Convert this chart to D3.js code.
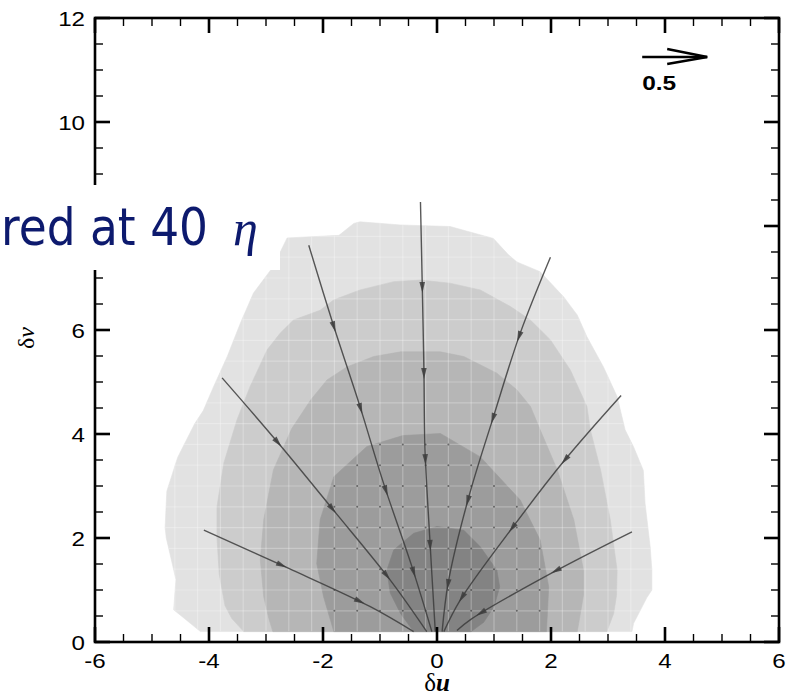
<!DOCTYPE html>
<html><head><meta charset="utf-8">
<script src="https://cdn.jsdelivr.net/npm/d3@7"></script>
<style>html,body{margin:0;padding:0;background:#fff;}svg{display:block;}</style>
</head><body>
<svg id="chart" width="786" height="698"></svg>
<script>
// ---------- data ----------
const xTicks = [-6, -4, -2, 0, 2, 4, 6];
const yTicks = [0, 2, 4, 6, 8, 10, 12];
const levelColors = ["#e2e2e2", "#cccccc", "#b6b6b6", "#9c9c9c", "#838383"];

const level1 = [[-4.15,0.2],[-4.62,0.62],[-4.58,1.2],[-4.75,2.0],[-4.77,2.2],[-4.74,2.9],[-4.55,3.55],[-4.25,4.2],[-4.1,4.45],[-3.92,4.91],[-3.68,5.49],[-3.45,6.13],[-3.22,6.71],[-2.92,7.15],[-2.75,7.5],[-2.63,7.77],[-1.72,7.82],[-1.46,8.05],[-1.35,8.08],[-0.64,8.02],[0.23,7.99],[0.99,7.76],[1.25,7.45],[1.40,7.31],[1.81,7.12],[2.22,6.64],[2.46,6.29],[2.63,5.87],[2.92,5.29],[3.16,4.72],[3.30,4.08],[3.45,3.75],[3.62,3.3],[3.65,2.67],[3.74,1.83],[3.77,1.38],[3.77,1.0],[3.68,0.85],[3.45,0.36],[3.42,0.2]];
const level2 = [[-3.39,0.2],[-3.6,0.45],[-3.72,0.7],[-3.82,1.3],[-3.86,2.0],[-3.86,2.6],[-3.74,3.44],[-3.51,4.27],[-3.28,4.91],[-2.98,5.62],[-2.75,5.94],[-2.52,6.19],[-2.05,6.38],[-1.81,6.58],[-1.35,6.77],[-0.76,6.93],[-0.29,6.96],[0.23,6.9],[0.76,6.77],[1.29,6.45],[1.64,6.19],[1.99,5.81],[2.34,5.23],[2.63,4.53],[2.69,4.08],[2.87,3.31],[3.04,2.35],[3.16,1.38],[3.15,0.9],[3.1,0.55],[2.98,0.2]];
const level3 = [[-2.88,0.2],[-2.95,0.45],[-3.04,0.87],[-3.1,1.58],[-3.04,2.35],[-2.87,3.31],[-2.55,4.1],[-2.22,4.65],[-1.93,5.04],[-1.58,5.29],[-1.11,5.49],[-0.64,5.58],[0.06,5.58],[0.47,5.49],[1.05,5.17],[1.40,4.85],[1.64,4.53],[1.81,4.08],[2.11,3.31],[2.40,2.35],[2.57,1.38],[2.57,0.9],[2.5,0.45],[2.46,0.2]];
const level4 = [[-1.81,0.2],[-1.99,0.87],[-2.11,1.51],[-2.05,2.35],[-1.81,3.18],[-1.23,3.76],[-0.6,3.97],[0.06,4.01],[0.76,3.56],[1.46,2.73],[1.81,1.96],[1.96,1.06],[1.92,0.2]];
const level5 = [[-0.41,0.2],[-0.64,0.55],[-0.82,0.94],[-0.88,1.38],[-0.76,1.77],[-0.41,2.09],[0.0,2.22],[0.47,2.15],[0.76,1.83],[1.05,1.38],[1.10,1.06],[1.0,0.68],[0.82,0.38],[0.6,0.2]];
const levels = [level1, level2, level3, level4, level5];

const streamlines = [
  [[-4.09,2.15],[-2.61,1.42],[-1.17,0.68],[-0.41,0.2]],
  [[-3.77,5.08],[-2.81,3.86],[-1.82,2.54],[-0.82,1.19],[-0.18,0.2]],
  [[-2.25,7.63],[-1.82,6.10],[-1.36,4.56],[-0.94,3.06],[-0.44,1.45],[-0.09,0.2]],
  [[-0.29,8.46],[-0.26,6.93],[-0.23,5.26],[-0.21,3.69],[-0.13,2.06],[-0.03,0.2]],
  [[1.99,7.40],[1.46,5.94],[0.99,4.33],[0.55,2.76],[0.20,1.16],[0.09,0.2]],
  [[3.23,4.74],[2.22,3.47],[1.29,2.15],[0.41,0.81],[0.12,0.2]],
  [[3.42,2.12],[2.00,1.32],[0.60,0.44],[0.35,0.22]]
];
const refVector = {x: 3.6, y: 11.4, len: 0.5, label: "0.5"};

// ---------- setup ----------
const svg = d3.select("#chart");
const x = d3.scaleLinear().domain([-6, 6]).range([95, 779]);
const y = d3.scaleLinear().domain([0, 12]).range([642, 18]);
const poly = d3.line().x(d => x(d[0])).y(d => y(d[1])).curve(d3.curveLinearClosed);
const curve = d3.line().x(d => x(d[0])).y(d => y(d[1])).curve(d3.curveCatmullRom.alpha(0.5));
const caption = {x: 0, y: 185, w: 280, h: 85};

const defs = svg.append("defs");
defs.append("clipPath").attr("id", "clipOuter").append("path").attr("d", poly(level1));
defs.append("clipPath").attr("id", "clipInner").append("path").attr("d", poly(level4));

// contour fills
svg.append("g").selectAll("path").data(levels).join("path")
  .attr("d", d => poly(d))
  .attr("fill", (d, i) => levelColors[i])
  .attr("stroke", (d, i) => levelColors[i]).attr("stroke-width", 0.6);

// cell grid lines
const gx = d3.range(-5.8, 6.0, 0.4), gy = d3.range(0.6, 9.0, 0.4);
const grid = svg.append("g").attr("clip-path", "url(#clipOuter)")
  .attr("stroke", "#ffffff").attr("stroke-opacity", 0.27).attr("stroke-width", 1.2);
grid.selectAll("line.v").data(gx).join("line").attr("class", "v")
  .attr("x1", d => x(d)).attr("x2", d => x(d)).attr("y1", y(0.2)).attr("y2", y(9));
grid.selectAll("line.h").data(gy).join("line").attr("class", "h")
  .attr("y1", d => y(d)).attr("y2", d => y(d)).attr("x1", x(-6)).attr("x2", x(6));

// dots at grid nodes in dark region
const nodes = [];
gx.forEach(a => gy.forEach(b => nodes.push([a, b])));
svg.append("g").attr("clip-path", "url(#clipInner)").selectAll("circle").data(nodes).join("circle")
  .attr("cx", d => x(d[0])).attr("cy", d => y(d[1])).attr("r", 1.0)
  .attr("fill", "#1a1a1a").attr("fill-opacity", 0.55);

// streamlines with arrowheads
const sg = svg.append("g");
streamlines.forEach(pts => {
  const p = sg.append("path").attr("d", curve(pts)).attr("fill", "none")
    .attr("stroke", "#3c3c3c").attr("stroke-opacity", 0.85).attr("stroke-width", 1.4);
  const node = p.node(), L = node.getTotalLength();
  for (let s = 86; s < L - 10; s += 86) {
    const a = node.getPointAtLength(s), b = node.getPointAtLength(s + 1);
    const ang = Math.atan2(b.y - a.y, b.x - a.x) * 180 / Math.PI;
    sg.append("path").attr("d", "M5,0L-6,-2.8L-6,2.8Z")
      .attr("transform", `translate(${a.x},${a.y}) rotate(${ang})`)
      .attr("fill", "#3c3c3c").attr("fill-opacity", 0.85);
  }
});

// frame
svg.append("rect").attr("x", x(-6)).attr("y", y(12)).attr("width", x(6) - x(-6)).attr("height", y(0) - y(12))
  .attr("fill", "none").attr("stroke", "#000").attr("stroke-width", 2.6);

// ticks
const tk = svg.append("g").attr("stroke", "#000");
const xMinor = d3.range(-6, 6.01, 0.5).filter(v => Math.abs(v % 2) > 0.01);
const yMinor = d3.range(0, 12.01, 0.5).filter(v => Math.abs(v % 2) > 0.01);
xTicks.forEach(v => {
  tk.append("line").attr("x1", x(v)).attr("x2", x(v)).attr("y1", y(0)).attr("y2", y(0) - 15).attr("stroke-width", 2.6);
  tk.append("line").attr("x1", x(v)).attr("x2", x(v)).attr("y1", y(12)).attr("y2", y(12) + 15).attr("stroke-width", 2.6);
});
xMinor.forEach(v => {
  tk.append("line").attr("x1", x(v)).attr("x2", x(v)).attr("y1", y(0)).attr("y2", y(0) - 8).attr("stroke-width", 1.4);
  tk.append("line").attr("x1", x(v)).attr("x2", x(v)).attr("y1", y(12)).attr("y2", y(12) + 8).attr("stroke-width", 1.4);
});
yTicks.forEach(v => {
  tk.append("line").attr("y1", y(v)).attr("y2", y(v)).attr("x1", x(-6)).attr("x2", x(-6) + 15).attr("stroke-width", 2.6);
  tk.append("line").attr("y1", y(v)).attr("y2", y(v)).attr("x1", x(6)).attr("x2", x(6) - 15).attr("stroke-width", 2.6);
});
yMinor.forEach(v => {
  tk.append("line").attr("y1", y(v)).attr("y2", y(v)).attr("x1", x(-6)).attr("x2", x(-6) + 8).attr("stroke-width", 1.4);
  tk.append("line").attr("y1", y(v)).attr("y2", y(v)).attr("x1", x(6)).attr("x2", x(6) - 8).attr("stroke-width", 1.4);
});

// tick labels (the one hidden behind the caption box is not shown, as in the reference)
const lab = svg.append("g").attr("font-family", "'Liberation Sans', Arial, sans-serif").attr("font-size", 21).attr("fill", "#000");
xTicks.forEach(v => {
  lab.append("text").attr("text-anchor", "middle")
    .attr("transform", `translate(${x(v)},668) scale(1.15,1)`).text(v);
});
yTicks.filter(v => y(v) < caption.y || y(v) > caption.y + caption.h).forEach(v => {
  lab.append("text").attr("text-anchor", "end")
    .attr("transform", `translate(85,${y(v) + 7.5}) scale(1.15,1)`).text(v);
});

// axis titles
const tu = svg.append("text").attr("x", x(0)).attr("y", 691).attr("text-anchor", "middle")
  .attr("font-family", "'Liberation Serif', 'Times New Roman', serif").attr("font-size", 25);
tu.append("tspan").text("δ");
tu.append("tspan").attr("font-style", "italic").attr("font-weight", "bold").text("u");
const tv = svg.append("text").attr("transform", "translate(34,338) rotate(-90)").attr("text-anchor", "middle")
  .attr("font-family", "'Liberation Serif', 'Times New Roman', serif").attr("font-size", 24);
tv.append("tspan").text("δ");
tv.append("tspan").attr("font-style", "italic").text("v");

// reference vector
const rv = svg.append("g").attr("stroke", "#000").attr("stroke-width", 2.4).attr("fill", "none");
const rx0 = x(refVector.x), rx1 = rx0 + 65 * refVector.len / 0.5, ry = 57;
rv.append("line").attr("x1", rx0).attr("x2", rx1).attr("y1", ry).attr("y2", ry);
rv.append("path").attr("d", `M${rx1 - 40},${ry - 8}L${rx1},${ry}L${rx1 - 40},${ry + 7}`);
svg.append("text").attr("x", rx0).attr("y", 90).attr("font-family", "'Liberation Sans', Arial, sans-serif")
  .attr("font-weight", "bold").attr("font-size", 20).attr("textLength", 34).attr("lengthAdjust", "spacingAndGlyphs")
  .text(refVector.label);

// overlay caption
svg.append("rect").attr("x", caption.x).attr("y", caption.y).attr("width", caption.w).attr("height", caption.h).attr("fill", "#fff");
svg.append("text").attr("x", 1).attr("y", 245).attr("fill", "#0d1a6e")
  .attr("font-family", "'DejaVu Sans', sans-serif").attr("font-size", 51)
  .attr("textLength", 207).attr("lengthAdjust", "spacingAndGlyphs").text("red at 40");
svg.append("text").attr("x", 233).attr("y", 245).attr("fill", "#0d1a6e")
  .attr("font-family", "'Liberation Serif', 'Times New Roman', serif").attr("font-style", "italic")
  .attr("font-size", 50).text("η");
</script>
</body></html>
